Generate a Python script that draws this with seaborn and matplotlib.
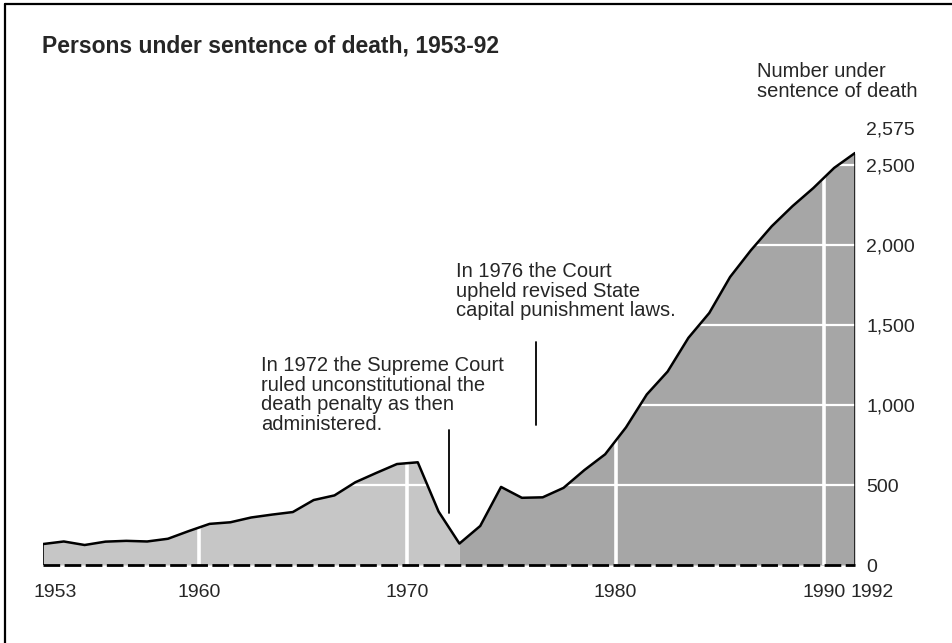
import numpy as np
import pandas as pd
import matplotlib
matplotlib.use("Agg")
import matplotlib.pyplot as plt
import seaborn as sns
from matplotlib.lines import Line2D

# ---- data ----
years = list(range(1953, 1993))
counts = [131, 147, 125, 146, 151, 147, 164, 212, 257, 267,
          297, 315, 331, 406, 435, 517, 575, 631, 642, 334,
          134, 244, 488, 420, 423, 482, 593, 692, 860, 1066,
          1209, 1420, 1575, 1800, 1967, 2117, 2243, 2356, 2482, 2575]
x_tick_years = [1953, 1960, 1970, 1980, 1990, 1992]
x_tick_labels = ["1953", "1960", "1970", "1980", "1990", "1992"]
grid_years = [1960, 1970, 1980, 1990]
y_ticks = [0, 500, 1000, 1500, 2000, 2500]
y_tick_labels = ["0", "500", "1,000", "1,500", "2,000", "2,500"]
top_label = "2,575"
title = "Persons under sentence of death, 1953-92"
y_title = "Number under\nsentence of death"
note_1972 = "In 1972 the Supreme Court\nruled unconstitutional the\ndeath penalty as then\nadministered."
note_1976 = "In 1976 the Court\nupheld revised State\ncapital punishment laws."
note_line_x = [1972.5, 1976.7]
note_line_y = [(325, 845), (875, 1395)]
shade_split = 1973

df = pd.DataFrame({"year": years, "count": counts})

sns.set_theme(style="white")
plt.rcParams["font.family"] = ["Liberation Sans", "DejaVu Sans"]

W, H = 952, 643
fig = plt.figure(figsize=(W / 100, H / 100), dpi=100)
fig.patch.set_facecolor("white")
ax = fig.add_axes([43 / W, 78 / H, 812 / W, 448 / H])
ax.set_facecolor("white")

yrs = df["year"].to_numpy()
cnt = df["count"].to_numpy()
ax.fill_between(yrs, 0, cnt, where=yrs <= shade_split, color="#c6c6c6", lw=0, zorder=1)
ax.fill_between(yrs, 0, cnt, where=yrs >= shade_split, color="#a6a6a6", lw=0, zorder=1)

for v in y_ticks[1:]:
    ax.axhline(v, color="white", lw=1.6, zorder=2)
for g in grid_years:
    ax.axvline(g + 0.5, color="white", lw=2.6, zorder=2)

sns.lineplot(data=df, x="year", y="count", color="black", lw=1.8, ax=ax, zorder=4)
ax.plot([years[0], years[0]], [0, counts[0]], color="black", lw=1.2, zorder=4)
ax.plot([years[-1], years[-1]], [0, counts[-1]], color="black", lw=1.8, zorder=4)
ax.axhline(0, color="black", lw=2.0, ls=(0, (6, 1.6)), zorder=4, clip_on=False)

for lx, (y0, y1) in zip(note_line_x, note_line_y):
    ax.plot([lx, lx], [y0, y1], color="black", lw=1.3, zorder=5)

for s in ax.spines.values():
    s.set_visible(False)
ax.set_xlabel("")
ax.set_ylabel("")

# y ticks on right
ax.yaxis.tick_right()
ax.set_yticks(y_ticks)
ax.set_yticklabels(y_tick_labels)
ax.tick_params(axis="y", length=0, pad=8, labelsize=14)
ax.annotate(top_label, xy=(years[-1], counts[-1]), xytext=(8, 16.5),
            textcoords="offset points", ha="left", va="center", fontsize=14)

# x labels (placed as annotations so the 1992 label can sit past the edge)
ax.set_xticks([])
xpos_off = [0.6, 0.5, 0.5, 0.5, 0.5, 0.8]
for yr, d, lab in zip(x_tick_years, xpos_off, x_tick_labels):
    ax.annotate(lab, xy=(yr + d, 0), xycoords=("data", "axes fraction"),
                xytext=(0, -19.5), textcoords="offset points",
                ha="center", va="center", fontsize=14, annotation_clip=False)

ax.set_xlim(years[0], years[-1])
ax.set_ylim(0, 2800)

def fx(px):
    return px / W

def fy(py):
    return 1 - py / H

fig.text(fx(42), fy(52), title, fontsize=16.5, fontweight="bold", ha="left", va="baseline")
fig.text(fx(757), fy(62), y_title, fontsize=14.5, ha="left", va="top", linespacing=1.05)
fig.text(fx(261), fy(356), note_1972, fontsize=14.5, ha="left", va="top", linespacing=1.05)
fig.text(fx(456), fy(262), note_1976, fontsize=14.5, ha="left", va="top", linespacing=1.05)

# frame (left and top edges)
fig.add_artist(Line2D([fx(5), fx(5)], [0, fy(4)], color="black", lw=1.6))
fig.add_artist(Line2D([fx(5), 1], [fy(4), fy(4)], color="black", lw=1.6))

fig.savefig("out.png", dpi=100)
